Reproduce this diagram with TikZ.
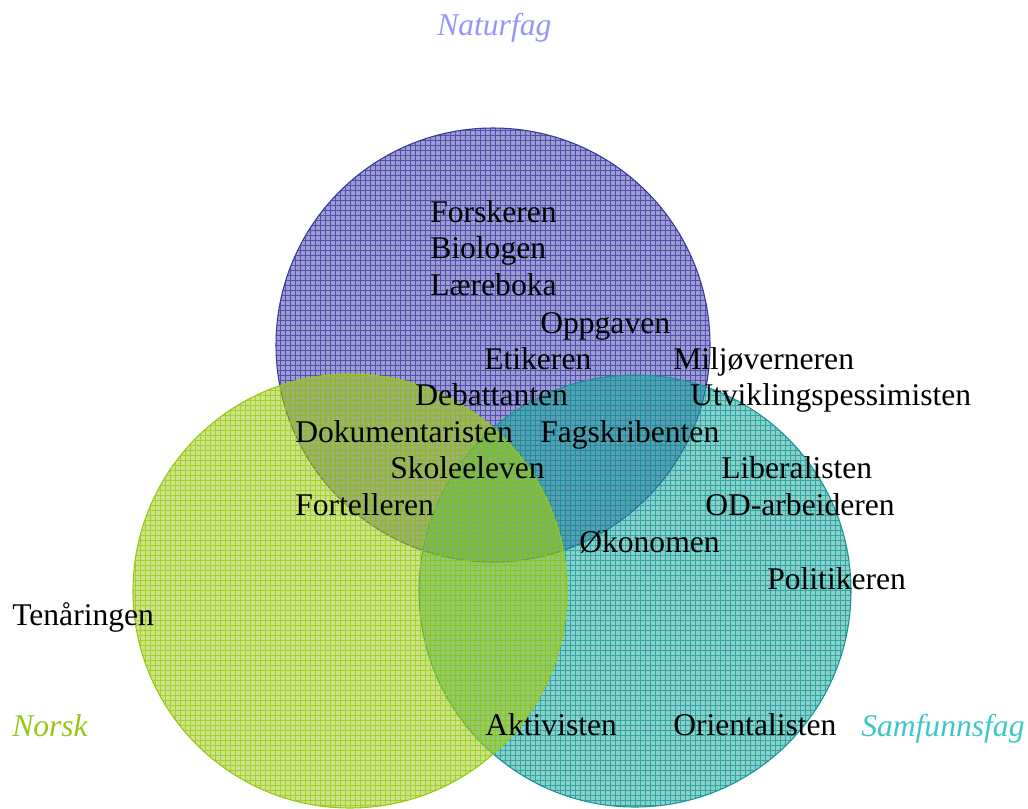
\documentclass[tikz,border=0pt]{standalone}
\usepackage{fontspec}
\setmainfont{Liberation Serif}
\usetikzlibrary{calc}

\definecolor{natfill}{RGB}{60,60,170}
\definecolor{natgrid}{RGB}{55,55,160}
\definecolor{norfill}{RGB}{155,200,20}
\definecolor{norgrid}{RGB}{150,200,15}
\definecolor{samfill}{RGB}{20,160,150}
\definecolor{samgrid}{RGB}{20,150,150}
\definecolor{natlabel}{RGB}{150,150,250}
\definecolor{norlabel}{RGB}{150,200,20}
\definecolor{samlabel}{RGB}{60,200,200}

\tikzset{
  lbl/.style={anchor=base west, inner sep=0pt, font=\fontsize{23.7}{28}\selectfont},
  subj/.style={anchor=base west, inner sep=0pt, font=\fontsize{23.7}{28}\selectfont\itshape},
}

% hatched circle: centre, radius, fill colour, grid colour
\newcommand\gridcircle[4]{%
  \begin{scope}
    \clip #1 circle (#2);
    \fill[#3, fill opacity=0.5] #1 circle (#2);
    \draw[#4, opacity=0.75, line width=0.5pt, step=3.75pt]
      ($#1+(-#2,#2)$) grid ($#1+(#2,-#2)$);
  \end{scope}
  \draw[#4, line width=0.8pt] #1 circle (#2);
}

\begin{document}
\begin{tikzpicture}[x=0.75pt, y=-0.75pt]
  \useasboundingbox (0,0) rectangle (1028,808);

  \gridcircle{(493,345)}{217}{natfill}{natgrid}
  \gridcircle{(635,591)}{216}{samfill}{samgrid}
  \gridcircle{(350,591)}{217}{norfill}{norgrid}

  % subject labels
  \node[subj, text=natlabel] (naturfag) at (437,35) {Naturfag};
  \node[subj, text=norlabel] (norsk) at (12,736) {Norsk};
  \node[subj, text=samlabel] (samfunnsfag) at (861,736) {Samfunnsfag};

  % roles
  \node[lbl] (forskeren) at (430,222) {Forskeren};
  \node[lbl] (biologen) at (430,258) {Biologen};
  \node[lbl] (laereboka) at (430,295) {Læreboka};
  \node[lbl] (oppgaven) at (540,333) {Oppgaven};
  \node[lbl] (etikeren) at (484,369) {Etikeren};
  \node[lbl] (miljo) at (673,369) {Miljøverneren};
  \node[lbl] (debattanten) at (415,405) {Debattanten};
  \node[lbl] (utvikling) at (690,405) {Utviklingspessimisten};
  \node[lbl] (dokumentaristen) at (295,442) {Dokumentaristen};
  \node[lbl] (fagskribenten) at (540,442) {Fagskribenten};
  \node[lbl] (skoleeleven) at (390,478) {Skoleeleven};
  \node[lbl] (liberalisten) at (721,478) {Liberalisten};
  \node[lbl] (fortelleren) at (295,515) {Fortelleren};
  \node[lbl] (od) at (705,515) {OD-arbeideren};
  \node[lbl] (okonomen) at (579,552) {Økonomen};
  \node[lbl] (politikeren) at (767,589) {Politikeren};
  \node[lbl] (tenaringen) at (12,625) {Tenåringen};
  \node[lbl] (aktivisten) at (485,735) {Aktivisten};
  \node[lbl] (orientalisten) at (673,735) {Orientalisten};
\end{tikzpicture}
\end{document}
